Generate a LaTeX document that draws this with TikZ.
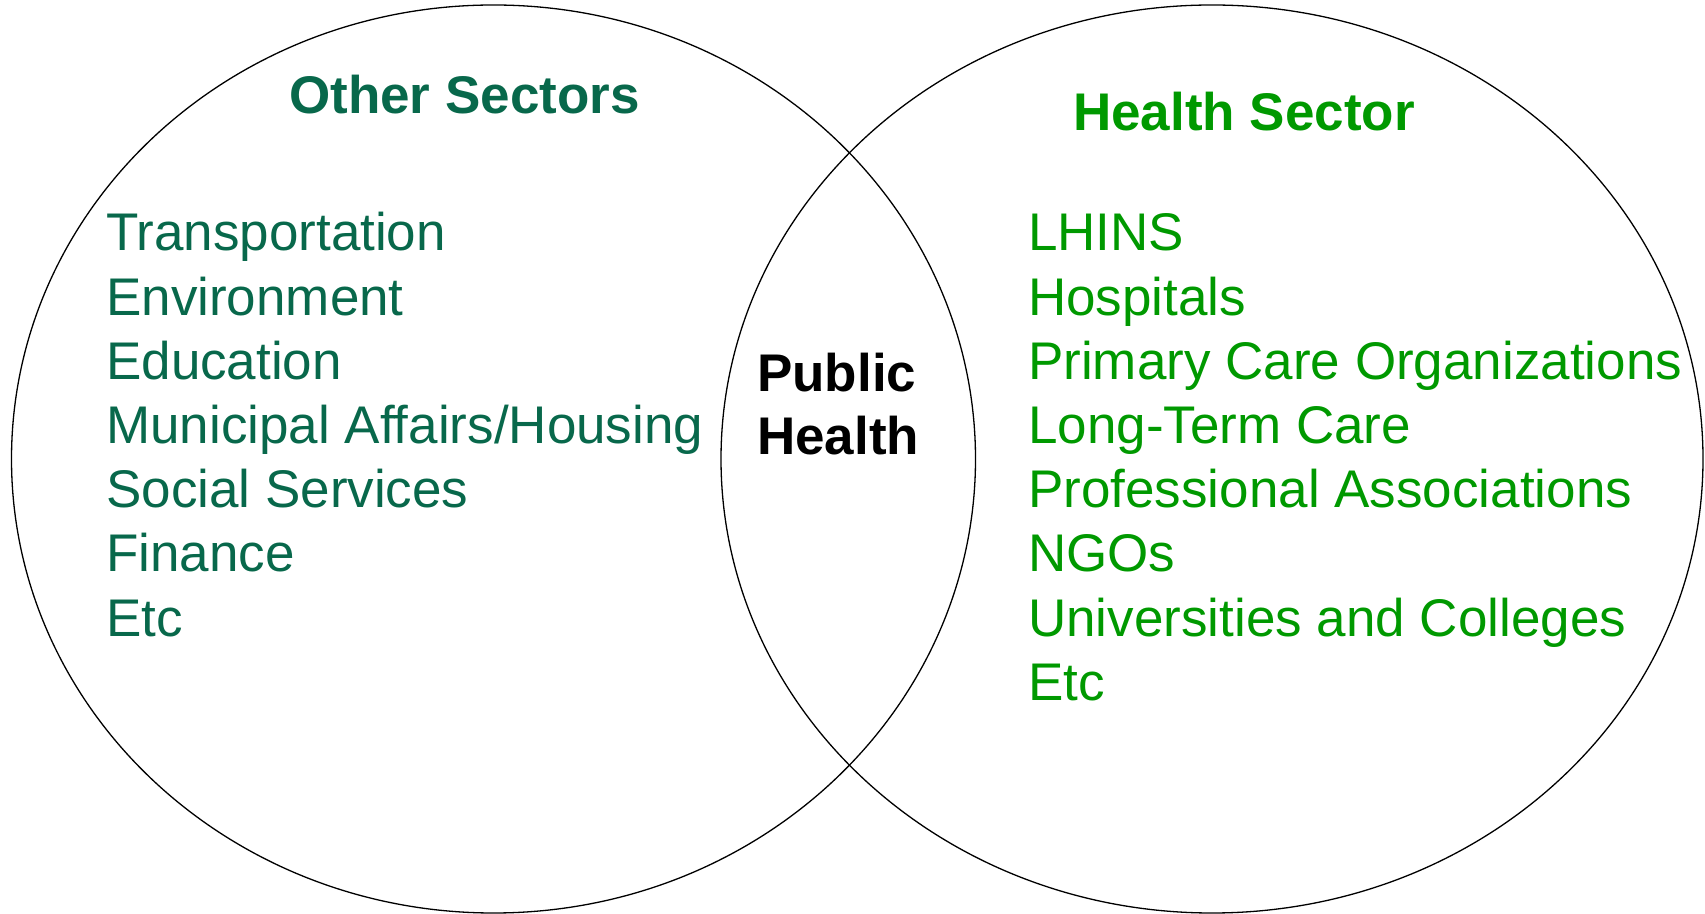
\documentclass[tikz,border=0pt]{standalone}
\usepackage{fontspec}
\setmainfont{Liberation Sans}
\usepackage{tikz}
\usetikzlibrary{positioning}

\definecolor{othergreen}{HTML}{08684B}
\definecolor{healthgreen}{HTML}{009900}

\tikzset{
	sector/.style={draw=black, line width=1.3pt},
	title/.style={anchor=base west, inner sep=0pt, font=\fontsize{53}{64}\selectfont\bfseries},
	entry/.style={anchor=base west, inner sep=0pt, font=\fontsize{53}{64}\selectfont}
}

\begin{document}
\begin{tikzpicture}[x=1pt, y=1pt]
					\useasboundingbox (0,0) rectangle (1705,913);
				
					% the two circles
					\draw[sector] (493.5,454) ellipse [x radius=482, y radius=454];
					\draw[sector] (1212,454) ellipse [x radius=491, y radius=454];
				
					% headings
					\node[title, othergreen] (other) at (289,799) {Other Sectors};
					\node[title, healthgreen] (health) at (1073,782.5) {Health Sector};
				
					% overlap
					\node[title, black] (pub) at (757,521.5) {Public};
					\node[title, black] (hlth) at (757,458.5) {Health};
				
					% other sectors
					\node[entry, othergreen] (o1) at (106,662) {Transportation};
					\node[entry, othergreen] (o2) at (106,597.8) {Environment};
					\node[entry, othergreen] (o3) at (106,533.6) {Education};
					\node[entry, othergreen] (o4) at (106,469.4) {Municipal Affairs/Housing};
					\node[entry, othergreen] (o5) at (106,405.2) {Social Services};
					\node[entry, othergreen] (o6) at (106,341) {Finance};
					\node[entry, othergreen] (o7) at (106,276.8) {Etc};
				
					% health sector
					\node[entry, healthgreen] (h1) at (1028,662) {LHINS};
					\node[entry, healthgreen] (h2) at (1028,597.8) {Hospitals};
					\node[entry, healthgreen] (h3) at (1028,533.6) {Primary Care Organizations};
					\node[entry, healthgreen] (h4) at (1028,469.4) {Long-Term Care};
					\node[entry, healthgreen] (h5) at (1028,405.2) {Professional Associations};
					\node[entry, healthgreen] (h6) at (1028,341) {NGOs};
					\node[entry, healthgreen] (h7) at (1028,276.8) {Universities and Colleges};
					\node[entry, healthgreen] (h8) at (1028,212.6) {Etc};
				\end{tikzpicture}
\end{document}
